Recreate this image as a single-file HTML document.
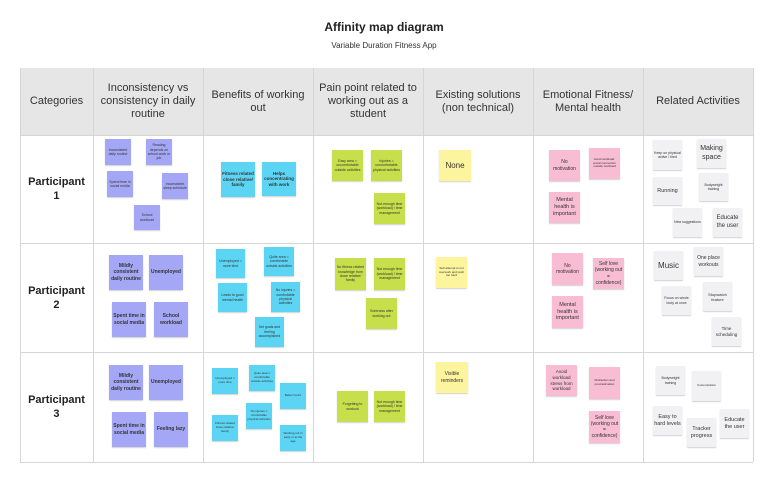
<!DOCTYPE html>
<html><head><meta charset="utf-8"><style>
*{margin:0;padding:0;box-sizing:border-box}
body{width:768px;height:480px;background:#fff;position:relative;overflow:hidden;font-family:"Liberation Sans",sans-serif;color:#222}
.t{position:absolute;left:0;width:768px;text-align:center}
.hd{position:absolute;top:68px;height:67px;background:#e6e6e6;display:flex;align-items:center;justify-content:center;text-align:center;font-size:11px;line-height:13px;color:#333;padding:0 3px}
.v{position:absolute;top:68px;height:394px;width:1px;background:#d6d6d6}
.h{position:absolute;left:20px;width:733px;height:1px;background:#d6d6d6}
.p{position:absolute;left:20px;width:73px;display:flex;align-items:center;justify-content:center;text-align:center;font-weight:bold;font-size:11px;line-height:14px;color:#222}
.s{position:absolute;display:flex;align-items:center;justify-content:center;text-align:center;line-height:1.25;padding:1px;color:#333;box-shadow:0 1px 1px rgba(0,0,0,.18)}
.pu{background:#a4a7f5;font-weight:bold}.cy{background:#5cd5f4}.gr{background:#c6df4a}.ye{background:#fdf49e}.pk{background:#f8bdd3}.gy{background:#f1f1f3}
</style></head><body>
<div class="t" style="top:20px;font-size:12px;font-weight:bold">Affinity map diagram</div>
<div class="t" style="top:41px;font-size:8px;color:#333">Variable Duration Fitness App</div>
<div class="hd" style="left:20px;width:73px">Categories</div>
<div class="hd" style="left:93px;width:110px">Inconsistency vs consistency in daily routine</div>
<div class="hd" style="left:203px;width:110px">Benefits of working out</div>
<div class="hd" style="left:313px;width:110px">Pain point related to working out as a student</div>
<div class="hd" style="left:423px;width:110px">Existing solutions (non technical)</div>
<div class="hd" style="left:533px;width:110px">Emotional Fitness/ Mental health</div>
<div class="hd" style="left:643px;width:110px">Related Activities</div>
<div class="v" style="left:20px"></div><div class="v" style="left:93px"></div><div class="v" style="left:203px"></div><div class="v" style="left:313px"></div><div class="v" style="left:423px"></div><div class="v" style="left:533px"></div><div class="v" style="left:643px"></div><div class="v" style="left:753px"></div>
<div class="h" style="top:135px"></div><div class="h" style="top:243px"></div><div class="h" style="top:352px"></div><div class="h" style="top:462px"></div>
<div class="p" style="top:135px;height:108px">Participant<br>1</div>
<div class="p" style="top:243px;height:109px">Participant<br>2</div>
<div class="p" style="top:352px;height:110px">Participant<br>3</div>

<!-- Row 1 -->
<div class="s pu" style="left:105px;top:139px;width:26px;height:26px;font-size:3.5px;font-weight:normal">Inconsistent daily routine</div>
<div class="s pu" style="left:146px;top:139px;width:26px;height:26px;font-size:3.5px;font-weight:normal">Reading depends on school work or job</div>
<div class="s pu" style="left:107px;top:171px;width:26px;height:26px;font-size:3.5px;font-weight:normal">Spend time in social media</div>
<div class="s pu" style="left:162px;top:173px;width:26px;height:26px;font-size:3.5px;font-weight:normal">Inconsistent sleep schedule</div>
<div class="s pu" style="left:134px;top:205px;width:26px;height:25px;font-size:3.5px;font-weight:normal">School workload</div>
<div class="s cy" style="left:221px;top:162px;width:34px;height:35px;font-size:4.5px;font-weight:bold">Fitness related close relative/ family</div>
<div class="s cy" style="left:262px;top:162px;width:34px;height:34px;font-size:4.5px;font-weight:bold">Helps concentrating with work</div>
<div class="s gr" style="left:332px;top:150px;width:31px;height:31px;font-size:3.5px">Easy area = uncomfortable outside activities</div>
<div class="s gr" style="left:371px;top:150px;width:31px;height:31px;font-size:3.5px">Injuries = uncomfortable physical activities</div>
<div class="s gr" style="left:374px;top:193px;width:31px;height:31px;font-size:3.5px">Not enough time (workload) / time management</div>
<div class="s ye" style="left:439px;top:150px;width:32px;height:31px;font-size:8px">None</div>
<div class="s pk" style="left:549px;top:150px;width:31px;height:31px;font-size:5px">No motivation</div>
<div class="s pk" style="left:589px;top:148px;width:31px;height:31px;font-size:3px">Avoid workload: social connection outside workload</div>
<div class="s pk" style="left:549px;top:192px;width:31px;height:31px;font-size:5.5px">Mental health is important</div>
<div class="s gy" style="left:653px;top:140px;width:29px;height:30px;font-size:3.5px">Keep on physical active / tired</div>
<div class="s gy" style="left:697px;top:139px;width:29px;height:29px;font-size:7px">Making space</div>
<div class="s gy" style="left:653px;top:177px;width:29px;height:28px;font-size:5.5px">Running</div>
<div class="s gy" style="left:699px;top:173px;width:29px;height:28px;font-size:3.5px">Bodyweight training</div>
<div class="s gy" style="left:673px;top:208px;width:29px;height:29px;font-size:3.5px">New suggestions</div>
<div class="s gy" style="left:713px;top:208px;width:29px;height:29px;font-size:6px">Educate the user</div>

<!-- Row 2 -->
<div class="s pu" style="left:109px;top:255px;width:34px;height:35px;font-size:5px">Mildly consistent daily routine</div>
<div class="s pu" style="left:149px;top:255px;width:34px;height:35px;font-size:5px">Unemployed</div>
<div class="s pu" style="left:112px;top:302px;width:34px;height:35px;font-size:5px">Spent time in social media</div>
<div class="s pu" style="left:154px;top:302px;width:34px;height:35px;font-size:5px">School workload</div>
<div class="s cy" style="left:216px;top:249px;width:29px;height:29px;font-size:3.5px">Unemployed = more time</div>
<div class="s cy" style="left:264px;top:247px;width:30px;height:29px;font-size:3.5px">Quite area = comfortable outside activities</div>
<div class="s cy" style="left:218px;top:283px;width:29px;height:29px;font-size:3.5px">Leads to good mental health</div>
<div class="s cy" style="left:271px;top:282px;width:29px;height:30px;font-size:3.5px">No injuries = comfortable physical activities</div>
<div class="s cy" style="left:255px;top:317px;width:29px;height:30px;font-size:3.5px">Set goals and feeling accomplished</div>
<div class="s gr" style="left:335px;top:258px;width:31px;height:32px;font-size:3.5px">No fitness related knowledge from close relative/ family</div>
<div class="s gr" style="left:374px;top:258px;width:31px;height:32px;font-size:3.5px">Not enough time (workload) / time management</div>
<div class="s gr" style="left:366px;top:298px;width:31px;height:31px;font-size:3.5px">Soreness after working out</div>
<div class="s ye" style="left:436px;top:257px;width:31px;height:31px;font-size:3px">Self attempt to not overwork and push too hard</div>
<div class="s pk" style="left:552px;top:253px;width:31px;height:32px;font-size:5px">No motivation</div>
<div class="s pk" style="left:593px;top:258px;width:31px;height:31px;font-size:5px">Self love (working out = confidence)</div>
<div class="s pk" style="left:552px;top:296px;width:31px;height:32px;font-size:5.5px">Mental health is important</div>
<div class="s gy" style="left:654px;top:251px;width:29px;height:29px;font-size:8px">Music</div>
<div class="s gy" style="left:694px;top:247px;width:29px;height:29px;font-size:5px">One place workouts</div>
<div class="s gy" style="left:662px;top:286px;width:29px;height:29px;font-size:3.5px">Focus on whole body at once</div>
<div class="s gy" style="left:703px;top:282px;width:29px;height:29px;font-size:4px">Stopwatch feature</div>
<div class="s gy" style="left:712px;top:317px;width:29px;height:29px;font-size:4.5px">Time scheduling</div>

<!-- Row 3 -->
<div class="s pu" style="left:109px;top:365px;width:34px;height:35px;font-size:5px">Mildly consistent daily routine</div>
<div class="s pu" style="left:149px;top:365px;width:34px;height:35px;font-size:5px">Unemployed</div>
<div class="s pu" style="left:112px;top:412px;width:34px;height:35px;font-size:5px">Spent time in social media</div>
<div class="s pu" style="left:154px;top:412px;width:34px;height:35px;font-size:5px">Feeling lazy</div>
<div class="s cy" style="left:212px;top:368px;width:26px;height:26px;font-size:3px">Unemployed = more time</div>
<div class="s cy" style="left:249px;top:365px;width:26px;height:26px;font-size:3px">Quite area = comfortable outside activities</div>
<div class="s cy" style="left:280px;top:383px;width:26px;height:26px;font-size:3px">Better hours</div>
<div class="s cy" style="left:246px;top:403px;width:26px;height:26px;font-size:3px">No injuries = comfortable physical activities</div>
<div class="s cy" style="left:212px;top:415px;width:26px;height:26px;font-size:3px">Fitness related close relative/ family</div>
<div class="s cy" style="left:280px;top:425px;width:26px;height:26px;font-size:3px">Working out in early or at the age</div>
<div class="s gr" style="left:337px;top:391px;width:31px;height:31px;font-size:3.5px">Forgetting to workout</div>
<div class="s gr" style="left:374px;top:391px;width:31px;height:31px;font-size:3.5px">Not enough time (workload) / time management</div>
<div class="s ye" style="left:436px;top:362px;width:32px;height:31px;font-size:5px">Visible reminders</div>
<div class="s pk" style="left:546px;top:365px;width:31px;height:31px;font-size:4.5px">Avoid workload stress from workload</div>
<div class="s pk" style="left:589px;top:367px;width:31px;height:32px;font-size:3px">Distraction and procrastination</div>
<div class="s pk" style="left:589px;top:411px;width:31px;height:32px;font-size:5px">Self love (working out = confidence)</div>
<div class="s gy" style="left:656px;top:366px;width:29px;height:29px;font-size:3.5px">Bodyweight training</div>
<div class="s gy" style="left:692px;top:371px;width:29px;height:30px;font-size:3px">Customization</div>
<div class="s gy" style="left:653px;top:406px;width:29px;height:29px;font-size:5.5px">Easy to hard levels</div>
<div class="s gy" style="left:687px;top:418px;width:29px;height:29px;font-size:5.5px">Tracker progress</div>
<div class="s gy" style="left:720px;top:409px;width:29px;height:29px;font-size:5.5px">Educate the user</div>
</body></html>
